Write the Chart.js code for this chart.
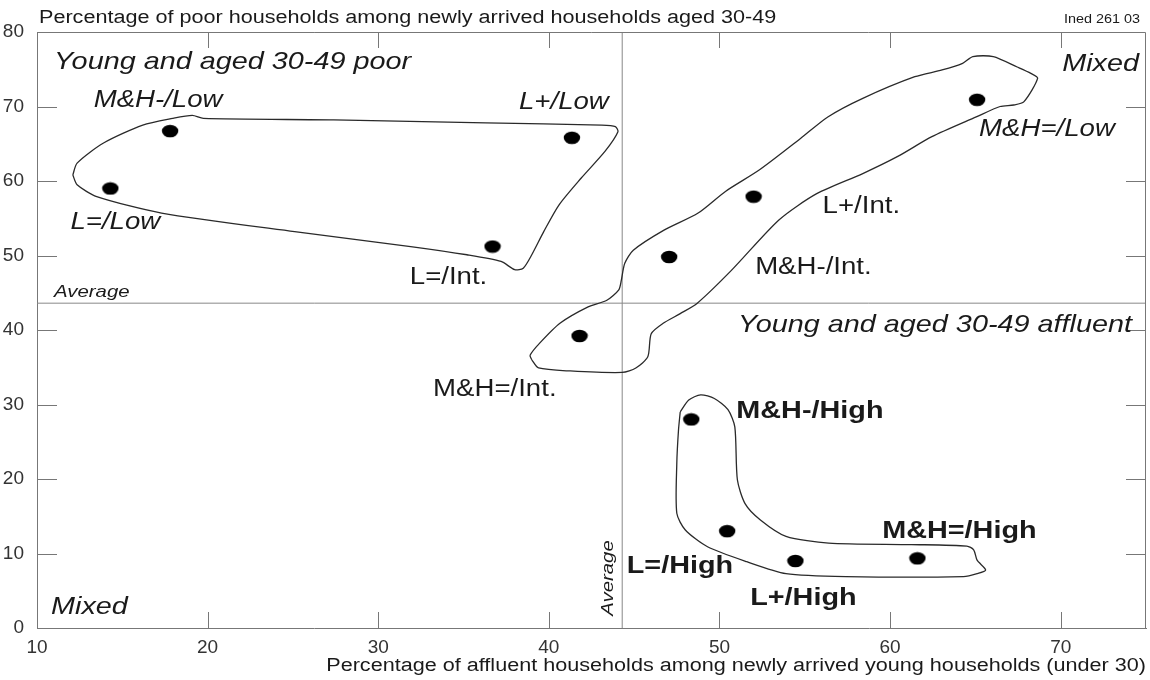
<!DOCTYPE html>
<html>
<head>
<meta charset="utf-8">
<script src="https://cdn.jsdelivr.net/npm/chart.js@4.4.1/dist/chart.umd.min.js"></script>
<style>
  body { margin: 0; background: #fff; }
  #wrap { width: 1150px; height: 680px; }
</style>
</head>
<body>
<div id="wrap"><canvas id="chart" width="1150" height="680"></canvas></div>
<script>
// household types (L = lone, M&H = married/households) x income level
const categories = ['M&H-/Low', 'L=/Low', 'L+/Low', 'L=/Int.', 'M&H=/Low', 'L+/Int.',
  'M&H-/Int.', 'M&H=/Int.', 'M&H-/High', 'L=/High', 'L+/High', 'M&H=/High'];
// % affluent among newly arrived young households (under 30)
const affluentYoung = [17.8, 14.3, 41.35, 36.7, 65.1, 52.0, 47.05, 41.8, 48.35, 50.45, 54.45, 61.6];
// % poor among newly arrived households aged 30-49
const poorMiddle = [66.7, 59.0, 65.8, 51.2, 70.9, 57.9, 49.8, 39.2, 28.0, 13.0, 9.0, 9.35];

const averageX = 44.3;
const averageY = 43.6;

const xTickValues = [10, 20, 30, 40, 50, 60, 70];
const yTickValues = [0, 10, 20, 30, 40, 50, 60, 70, 80];

// hand drawn group outlines
const lowGroupX = [12.1, 12.35, 13.5, 17.3, 25.1, 31.9, 35.2, 37.2, 38.0, 38.5, 39.0, 39.7, 40.6, 41.9,
  43.3, 44.05, 43.9, 43.1, 36.3, 27.4, 19.75, 19.1, 17.95, 16.2, 13.9, 12.35, 12.1];
const lowGroupY = [60.8, 59.5, 57.9, 55.7, 53.2, 51.2, 50.1, 49.2, 48.1, 48.3, 50.1, 53.2, 56.8, 60.4,
  64.0, 66.6, 67.3, 67.5, 67.8, 68.2, 68.4, 68.8, 68.4, 67.5, 65.1, 62.4, 60.8];

const midGroupX = [39.0, 39.4, 41.25, 44.3, 45.1, 45.8, 46.0, 46.7, 47.7, 48.7, 50.7, 53.5, 55.7, 58.4,
  60.45, 62.45, 65.05, 66.45, 67.25, 67.85, 68.65, 68.25, 67.45, 66.05, 64.85, 64.25, 63.05, 61.45, 58.4, 56.35,
  54.75, 52.35, 50.35, 48.75, 46.75, 44.95, 44.45, 44.25, 44.1, 43.4, 42.3, 40.65, 39.45, 38.9, 39.0];
const midGroupY = [36.0, 34.9, 34.5, 34.3, 34.9, 36.4, 39.5, 40.9, 42.2, 43.6, 48.0, 54.8, 58.3, 61.0,
  63.3, 65.95, 68.6, 70.0, 70.2, 70.65, 73.8, 74.45, 75.3, 76.7, 76.7, 75.8, 74.9, 74.0, 71.1, 68.6,
  65.7, 61.5, 58.6, 55.7, 53.4, 50.7, 48.95, 46.7, 45.4, 44.0, 43.1, 40.9, 38.2, 36.6, 36.0];

const highGroupX = [47.7, 48.2, 48.9, 49.7, 50.5, 50.9, 51.05, 51.5, 52.4, 53.9, 56.4, 61.25, 64.5,
  64.9, 65.1, 65.6, 65.1, 64.3, 57.4, 53.9, 51.6, 49.3, 48.0, 47.5, 47.5, 47.6, 47.7];
const highGroupY = [29.0, 30.6, 31.3, 30.8, 29.3, 27.0, 19.9, 16.7, 14.5, 12.3, 11.4, 11.2, 11.0,
  10.5, 9.1, 7.8, 7.3, 6.9, 6.9, 7.3, 8.9, 10.9, 13.15, 15.4, 22.1, 26.6, 29.0];

// label placement relative to each dot (pixels)
const labelPlace = [
  { dx: -12, dy: -30, align: 'center' },
  { dx: 5, dy: 34, align: 'center' },
  { dx: -8, dy: -35, align: 'center' },
  { dx: -44, dy: 31, align: 'center' },
  { dx: 2, dy: 30, align: 'left' },
  { dx: 69, dy: 10, align: 'left' },
  { dx: 86, dy: 11, align: 'left' },
  { dx: -23, dy: 54, align: 'right' },
  { dx: 45, dy: -8, align: 'left' },
  { dx: 6, dy: 35, align: 'right' },
  { dx: 8, dy: 37, align: 'center' },
  { dx: 42, dy: -27, align: 'center' }
];

const FONT = '"Liberation Sans", Arial, Helvetica, sans-serif';
const SX = 1.2; // the original print is a bit stretched sideways
const INK = '#1a1a1a';

function toPoints(xs, ys) {
  return xs.map((v, i) => ({ x: v, y: ys[i] }));
}

// filled ellipse for the dots
const dot = document.createElement('canvas');
dot.width = 18; dot.height = 14;
(function () {
  const c = dot.getContext('2d');
  c.fillStyle = '#000';
  c.beginPath();
  c.ellipse(9, 7, 8.2, 6.3, 0, 0, Math.PI * 2);
  c.fill();
})();

function text(ctx, str, x, y, font, align, rot) {
  ctx.save();
  ctx.translate(x, y);
  if (rot) ctx.rotate(rot);
  ctx.scale(SX, 1);
  ctx.font = font;
  ctx.textAlign = align || 'left';
  ctx.textBaseline = 'middle';
  ctx.fillStyle = INK;
  ctx.fillText(str, 0, 0);
  ctx.restore();
}

const annotate = {
  id: 'annotate',
  afterDraw(chart) {
    const { ctx, chartArea: a, scales: { x, y } } = chart;
    ctx.save();
    ctx.strokeStyle = '#777';
    ctx.lineWidth = 1;
    ctx.beginPath();
    ctx.moveTo(a.left, a.top + 0.5); ctx.lineTo(a.right - 0.5, a.top + 0.5); ctx.lineTo(a.right - 0.5, a.bottom);
    // inward ticks
    xTickValues.slice(1).forEach(v => {
      const px = Math.round(x.getPixelForValue(v)) + 0.5;
      ctx.moveTo(px, a.bottom); ctx.lineTo(px, a.bottom - 16);
      ctx.moveTo(px, a.top); ctx.lineTo(px, a.top + 16);
    });
    yTickValues.slice(1, -1).forEach(v => {
      const py = Math.round(y.getPixelForValue(v)) + 0.5;
      ctx.moveTo(a.left, py); ctx.lineTo(a.left + 20, py);
      ctx.moveTo(a.right, py); ctx.lineTo(a.right - 20, py);
    });
    ctx.stroke();
    ctx.restore();

    // titles
    text(ctx, 'Percentage of poor households among newly arrived households aged 30-49',
      a.left + 2, 18, '18px ' + FONT, 'left');
    text(ctx, 'Percentage of affluent households among newly arrived young households (under 30)',
      a.right, 666, '18px ' + FONT, 'right');
    text(ctx, 'Ined 261 03', a.right - 6, 20, '12px ' + FONT, 'right');

    // quadrant names
    const q = 'italic 24px ' + FONT;
    text(ctx, 'Young and aged 30-49 poor', a.left + 17, 62, q, 'left');
    text(ctx, 'Mixed', a.right - 7, 64, q, 'right');
    text(ctx, 'Young and aged 30-49 affluent', a.right - 14, 325, q, 'right');
    text(ctx, 'Mixed', a.left + 14, 607, q, 'left');

    // average lines captions
    text(ctx, 'Average', a.left + 17, y.getPixelForValue(averageY) - 11, 'italic 17px ' + FONT, 'left');
    text(ctx, 'Average', x.getPixelForValue(averageX) - 14, a.bottom - 50, 'italic 17px ' + FONT, 'center', -Math.PI / 2);

    // point labels
    categories.forEach((c, i) => {
      const p = labelPlace[i];
      let font = '23px ' + FONT;
      if (c.endsWith('Low')) font = 'italic 23px ' + FONT;
      if (c.endsWith('High')) font = 'bold 24px ' + FONT;
      text(ctx, c, x.getPixelForValue(affluentYoung[i]) + p.dx, y.getPixelForValue(poorMiddle[i]) + p.dy, font, p.align);
    });
  }
};

const outline = (xs, ys) => ({
  type: 'line',
  data: toPoints(xs, ys),
  borderColor: '#2a2a2a',
  borderWidth: 1.3,
  pointRadius: 0,
  tension: 0.25,
  fill: false
});

new Chart(document.getElementById('chart'), {
  type: 'scatter',
  data: {
    datasets: [
      outline(lowGroupX, lowGroupY),
      outline(midGroupX, midGroupY),
      outline(highGroupX, highGroupY),
      {
        type: 'line', data: [{ x: 10, y: averageY }, { x: 75, y: averageY }],
        borderColor: '#888', borderWidth: 1, pointRadius: 0
      },
      {
        type: 'line', data: [{ x: averageX, y: 0 }, { x: averageX, y: 80 }],
        borderColor: '#888', borderWidth: 1, pointRadius: 0
      },
      {
        data: toPoints(affluentYoung, poorMiddle),
        pointStyle: dot,
        pointRadius: 8
      }
    ]
  },
  options: {
    responsive: false,
    animation: false,
    layout: { autoPadding: false, padding: { top: 32, right: 4, left: 0, bottom: 0 } },
    plugins: { legend: { display: false }, tooltip: { enabled: false } },
    scales: {
      x: {
        type: 'linear', min: 10, max: 75,
        grid: { display: false },
        border: { display: true, color: '#777' },
        ticks: { stepSize: 10, color: '#333', font: { family: FONT, size: 19 }, padding: 0, maxRotation: 0 },
        afterBuildTicks: s => { s.ticks = xTickValues.map(v => ({ value: v })); },
        afterFit: s => { s.height = 52; s.paddingLeft = 0; s.paddingRight = 0; }
      },
      y: {
        min: 0, max: 80,
        grid: { display: false },
        border: { display: true, color: '#777' },
        ticks: { stepSize: 10, color: '#333', font: { family: FONT, size: 19 }, padding: 5 },
        afterBuildTicks: s => { s.ticks = yTickValues.map(v => ({ value: v })); },
        afterFit: s => { s.width = 37; }
      }
    }
  },
  plugins: [annotate]
});
</script>
</body>
</html>
